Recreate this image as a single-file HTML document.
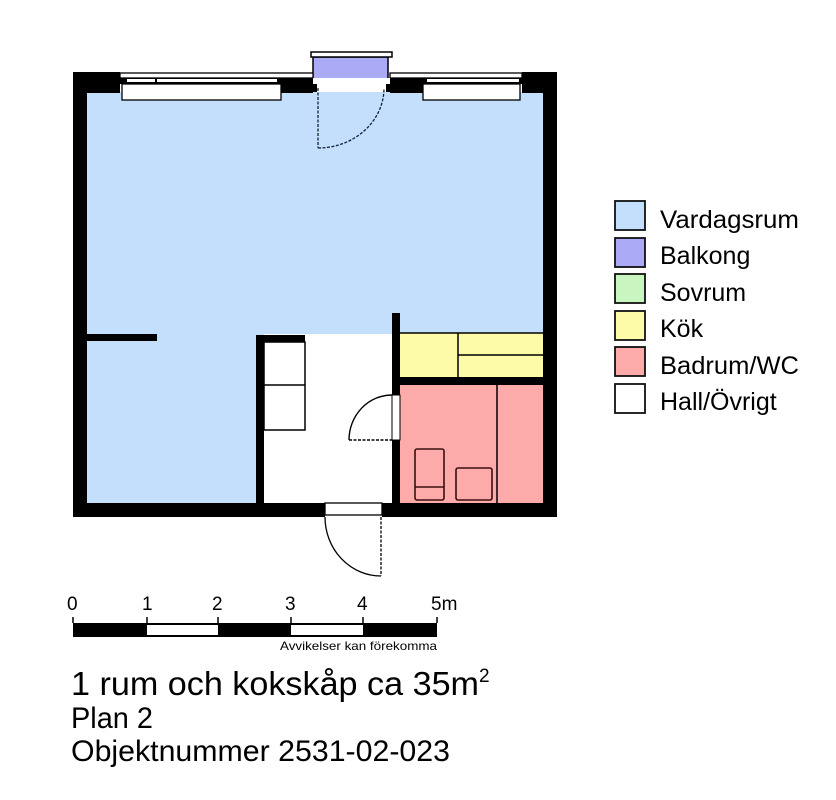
<!DOCTYPE html>
<html><head><meta charset="utf-8"><style>
html,body{margin:0;padding:0;background:#fff;}
svg{display:block;font-family:"Liberation Sans",Arial,sans-serif;}
</style></head><body>
<svg width="836" height="800" viewBox="0 0 836 800" xmlns="http://www.w3.org/2000/svg">
<rect x="86" y="92" width="458" height="411" fill="#c4dffb"/>
<rect x="264" y="334" width="128" height="169" fill="#fff"/>
<rect x="400" y="333" width="144" height="44" fill="#fdfba8"/>
<rect x="400" y="385" width="144" height="118" fill="#fdaaaa"/>
<rect x="313" y="57" width="75" height="22" fill="#aaaaf5" stroke="#000" stroke-width="1.5"/>
<rect x="311" y="52" width="81" height="5" fill="#fff" stroke="#000" stroke-width="1.5"/>
<rect x="73" y="72" width="14" height="445" fill="#000"/>
<rect x="543" y="72" width="14" height="445" fill="#000"/>
<rect x="73" y="72" width="47" height="21" fill="#000"/>
<rect x="522" y="72" width="35" height="21" fill="#000"/>
<rect x="281" y="78" width="32" height="15" fill="#000"/>
<rect x="390" y="78" width="33" height="15" fill="#000"/>
<rect x="120" y="73" width="193" height="5" fill="#fff" stroke="#000" stroke-width="1.3"/>
<rect x="390" y="73" width="132" height="5" fill="#fff" stroke="#000" stroke-width="1.3"/>
<rect x="120" y="78" width="193" height="6" fill="#000"/>
<rect x="390" y="78" width="132" height="6" fill="#000"/>
<rect x="127" y="79" width="28" height="3" fill="#fff"/>
<rect x="157" y="79" width="120" height="3" fill="#fff"/>
<rect x="320" y="79" width="63" height="4" fill="#fff"/>
<rect x="427" y="79" width="92" height="3" fill="#fff"/>
<rect x="122" y="84" width="159" height="16" fill="#fff" stroke="#000" stroke-width="1.3"/>
<rect x="423" y="84" width="97" height="16" fill="#fff" stroke="#000" stroke-width="1.3"/>
<rect x="313" y="78" width="77" height="6" fill="#fff"/>
<rect x="313" y="84" width="4" height="8" fill="#000"/>
<rect x="386" y="84" width="4" height="8" fill="#000"/>
<line x1="318" y1="88" x2="318" y2="148" stroke="#123" stroke-width="1.3" stroke-dasharray="3,1.5"/>
<path d="M318 148 A66 60 0 0 0 384 88" fill="none" stroke="#123" stroke-width="1.3" stroke-dasharray="3,1.5"/>
<rect x="73" y="503" width="252" height="14" fill="#000"/>
<rect x="382" y="503" width="175" height="14" fill="#000"/>
<rect x="325" y="503" width="57" height="12" fill="#fff" stroke="#000" stroke-width="1.3"/>
<line x1="381" y1="517" x2="381" y2="576" stroke="#000" stroke-width="1.3" stroke-dasharray="3,1.5"/>
<path d="M325 517 A56 59 0 0 0 381 576" fill="none" stroke="#000" stroke-width="1.3"/>
<rect x="86" y="334" width="71" height="7" fill="#000"/>
<rect x="256" y="335" width="8" height="170" fill="#000"/>
<rect x="256" y="335" width="49" height="7" fill="#000"/>
<rect x="264" y="342" width="41" height="88" fill="#fff" stroke="#000" stroke-width="1.5"/>
<line x1="264" y1="385" x2="305" y2="385" stroke="#000" stroke-width="1.5"/>
<rect x="392" y="313" width="8" height="192" fill="#000"/>
<line x1="400" y1="333" x2="544" y2="333" stroke="#000" stroke-width="1.5"/>
<line x1="458" y1="333" x2="458" y2="377" stroke="#000" stroke-width="1.5"/>
<line x1="458" y1="355" x2="544" y2="355" stroke="#000" stroke-width="1.5"/>
<rect x="392" y="377" width="152" height="8" fill="#000"/>
<rect x="392" y="395" width="8" height="45" fill="#fff" stroke="#000" stroke-width="1"/>
<path d="M349 440 A43 45 0 0 1 392 395" fill="none" stroke="#000" stroke-width="1.4"/>
<line x1="349" y1="440" x2="392" y2="440" stroke="#000" stroke-width="1.4" stroke-dasharray="3,1.5"/>
<line x1="497" y1="385" x2="497" y2="503" stroke="#000" stroke-width="1.5"/>
<rect x="415" y="449" width="29" height="51" rx="2" fill="none" stroke="#3a1010" stroke-width="1.6"/>
<line x1="415" y1="487" x2="444" y2="487" stroke="#3a1010" stroke-width="1.6"/>
<rect x="456" y="468" width="36" height="32" rx="2" fill="none" stroke="#3a1010" stroke-width="1.6"/>
<g stroke="#111" stroke-width="1.8">
<rect x="615" y="201" width="30" height="29" fill="#c4dffb"/>
<rect x="615" y="238" width="30" height="29" fill="#aaaaf5"/>
<rect x="615" y="274" width="30" height="29" fill="#c8f5c0"/>
<rect x="615" y="311" width="30" height="29" fill="#fdfba8"/>
<rect x="615" y="347" width="30" height="29" fill="#fdaaaa"/>
<rect x="615" y="384" width="30" height="29" fill="#fff"/>
</g>
<g font-size="25" fill="#000">
<text x="660" y="228" textLength="139" lengthAdjust="spacingAndGlyphs">Vardagsrum</text>
<text x="660" y="264">Balkong</text>
<text x="660" y="301">Sovrum</text>
<text x="660" y="337">Kök</text>
<text x="660" y="374" textLength="139" lengthAdjust="spacingAndGlyphs">Badrum/WC</text>
<text x="660" y="410">Hall/Övrigt</text>
</g>
<g font-size="19" fill="#000">
<text x="67" y="610">0</text>
<text x="142" y="610">1</text>
<text x="212" y="610">2</text>
<text x="285" y="610">3</text>
<text x="357" y="610">4</text>
<text x="431" y="610">5m</text>
</g>
<rect x="73" y="623" width="364" height="14" fill="#000"/>
<rect x="147" y="625" width="71" height="10" fill="#fff"/>
<rect x="291" y="625" width="72" height="10" fill="#fff"/>
<g stroke="#000" stroke-width="1.5">
<line x1="73" y1="617" x2="73" y2="623"/><line x1="147" y1="617" x2="147" y2="623"/>
<line x1="218" y1="617" x2="218" y2="623"/><line x1="291" y1="617" x2="291" y2="623"/>
<line x1="363" y1="617" x2="363" y2="623"/><line x1="437" y1="617" x2="437" y2="623"/>
</g>
<text x="280" y="650" font-size="12" fill="#000" textLength="157" lengthAdjust="spacingAndGlyphs">Avvikelser kan förekomma</text>
<text x="71" y="695" font-size="33" fill="#000"><tspan textLength="408" lengthAdjust="spacingAndGlyphs">1 rum och kokskåp ca 35m</tspan><tspan font-size="19" dy="-13">2</tspan></text>
<text x="71" y="728" font-size="30" fill="#000" textLength="82" lengthAdjust="spacingAndGlyphs">Plan 2</text>
<text x="71" y="761" font-size="30" fill="#000" textLength="379" lengthAdjust="spacingAndGlyphs">Objektnummer 2531-02-023</text>
</svg>
</body></html>
